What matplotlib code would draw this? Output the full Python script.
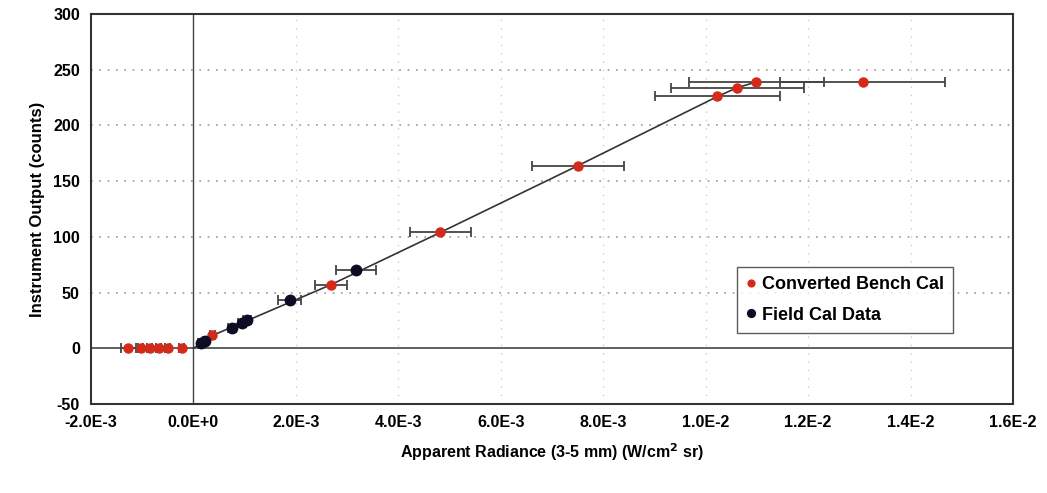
import matplotlib
matplotlib.use('Agg')
import matplotlib.pyplot as plt

plt.rcParams['font.family'] = ['Liberation Sans', 'DejaVu Sans']
plt.rcParams['font.weight'] = 'bold'
plt.rcParams['axes.unicode_minus'] = False

# converted bench calibration (red)
bench_x = [-1.27e-3, -1.03e-3, -0.85e-3, -0.68e-3, -0.50e-3, -0.23e-3, 0.37e-3,
           2.68e-3, 4.82e-3, 7.51e-3, 10.23e-3, 10.62e-3, 10.99e-3, 13.07e-3]
bench_y = [0, 0, 0, 0, 0, 0, 11.5, 57, 104, 164, 226, 234, 239, 239]
bench_xerr = [0.14e-3, 0.05e-3, 0.05e-3, 0.05e-3, 0.05e-3, 0.05e-3, 0.05e-3,
              0.31e-3, 0.6e-3, 0.9e-3, 1.22e-3, 1.3e-3, 1.32e-3, 1.61e-3]

# field calibration data (black)
field_x = [0.14e-3, 0.23e-3, 0.76e-3, 0.95e-3, 1.05e-3, 1.88e-3, 3.18e-3]
field_y = [4.5, 7, 18, 23, 25, 43, 70.5]
field_xerr = [0.05e-3, 0.05e-3, 0.08e-3, 0.08e-3, 0.08e-3, 0.22e-3, 0.39e-3]

# trend line
line_x = [0, 0.37e-3, 2.68e-3, 4.82e-3, 7.51e-3, 10.23e-3, 10.62e-3, 10.99e-3]
line_y = [0, 11.5, 57, 104, 164, 226, 234, 239]

xticks = [-2e-3, 0, 2e-3, 4e-3, 6e-3, 8e-3, 10e-3, 12e-3, 14e-3, 16e-3]
xtick_labels = ['-2.0E-3', '0.0E+0', '2.0E-3', '4.0E-3', '6.0E-3', '8.0E-3',
                '1.0E-2', '1.2E-2', '1.4E-2', '1.6E-2']
yticks = [-50, 0, 50, 100, 150, 200, 250, 300]

fig = plt.figure(figsize=(10.47, 4.93), dpi=100)
ax = fig.add_axes([0.0869, 0.1805, 0.8806, 0.791])

for y in [50, 100, 150, 200, 250]:
    ax.axhline(y, color='#999999', linestyle=(0, (1, 4)), linewidth=1.2, zorder=0)
for x in [2e-3, 4e-3, 6e-3, 8e-3, 10e-3, 12e-3, 14e-3]:
    ax.axvline(x, color='#cccccc', linestyle=(0, (1, 5)), linewidth=1.0, zorder=0)
ax.axhline(0, color='#444444', linewidth=1.2, zorder=1)
ax.axvline(0, color='#444444', linewidth=1.0, zorder=1)

ax.plot(line_x, line_y, color='#333333', linewidth=1.2, zorder=2)

ax.errorbar(bench_x, bench_y, xerr=bench_xerr, fmt='none', ecolor='#444444',
            elinewidth=1.3, capsize=3.5, capthick=1.3, zorder=3)
ax.errorbar(field_x, field_y, xerr=field_xerr, fmt='none', ecolor='#444444',
            elinewidth=1.3, capsize=3.5, capthick=1.3, zorder=3)
ax.plot(bench_x, bench_y, linestyle='none', marker='o', markersize=6.5,
        color='#d42a1a', label='Converted Bench Cal', zorder=4)
ax.plot(field_x, field_y, linestyle='none', marker='o', markersize=7.5,
        color='#0c0c24', label='Field Cal Data', zorder=4)

ax.set_xlim(-2e-3, 16e-3)
ax.set_ylim(-50, 300)
ax.set_xticks(xticks)
ax.set_xticklabels(xtick_labels)
ax.set_yticks(yticks)
ax.tick_params(length=0, labelsize=11.5, pad=8)
for lab in ax.get_xticklabels() + ax.get_yticklabels():
    lab.set_fontweight('bold')
for sp in ax.spines.values():
    sp.set_color('#333333')
    sp.set_linewidth(1.5)

ax.set_xlabel('Apparent Radiance (3-5 mm) (W/cm$^\\mathbf{2}$ sr)', fontsize=11.5,
              fontweight='bold', labelpad=8)
ax.set_ylabel('Instrument Output (counts)', fontsize=12, fontweight='bold', labelpad=6)

leg = ax.legend(loc='upper left', bbox_to_anchor=(0.7007, 0.351), fontsize=13,
                frameon=True, fancybox=False, handlelength=0.6, handletextpad=0.3,
                borderpad=0.5, labelspacing=0.75, markerscale=0.75, borderaxespad=0)
leg.get_frame().set_edgecolor('#333333')
leg.get_frame().set_linewidth(1.0)

fig.savefig('out.png', dpi=100)
